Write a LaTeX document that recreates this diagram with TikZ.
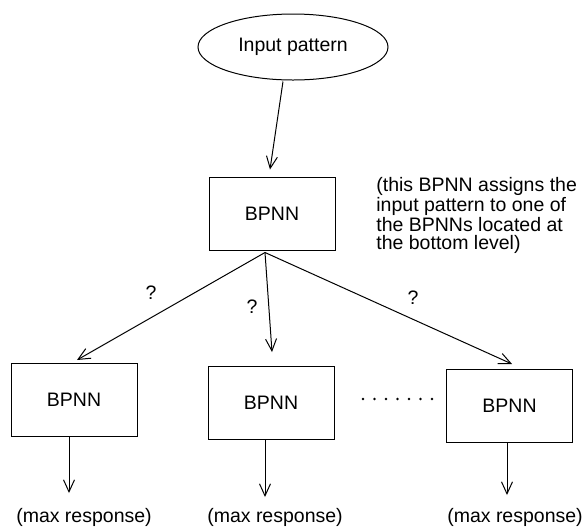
\documentclass[tikz,border=0pt]{standalone}
\usepackage{fontspec}
\setmainfont{Liberation Sans}
\usetikzlibrary{shapes.geometric,arrows.meta,calc}

\tikzset{
  net/.style={draw, line width=0.5pt, minimum width=63pt, minimum height=36.5pt, inner sep=0pt},
  link/.style={line width=0.5pt, -{Straight Barb[length=6pt,width=5.5pt,line width=0.5pt]}},
  lbl/.style={inner sep=0pt},
}

\begin{document}
\begin{tikzpicture}[x=0.5pt, y=-0.5pt, font=\fontsize{9.75}{9}\selectfont]
  \useasboundingbox (0,0) rectangle (585,527);

  % input
  \node[draw, ellipse, line width=0.5pt, minimum width=95pt, minimum height=33pt, inner sep=0pt] (inp) at (293,47) {Input pattern};

  % gating network
  \node[net] (top) at (272,213.5) {BPNN};
  \node[lbl, anchor=north west, align=left] (note) at (376,177)
    {(this BPNN assigns the\\input pattern to one of\\the BPNNs located at\\the bottom level)};

  % expert networks
  \node[net] (b1) at (74,400) {BPNN};
  \node[net] (b2) at (271,403) {BPNN};
  \node[net] (b3) at (509.5,406) {BPNN};

  % outputs
  \node[lbl] (r1) at (84,517) {(max response)};
  \node[lbl] (r2) at (275,517) {(max response)};
  \node[lbl] (r3) at (515,517) {(max response)};

  % dots between the experts
  \foreach \i in {0,...,6}
    \fill ({363+11.5*\i},399) circle (1.3);

  % input to gating network
  \draw[link] ($(inp.south)+(-10,1)$) -- ($(top.north)+(-2,-7)$);

  % gating network to experts
  \coordinate (apex) at ($(top.south)+(-7,2)$);
  \draw[link] (apex) -- ($(b1.north)+(3,-3)$);
  \draw[link] (apex) -- ($(b2.north)+(1,-14)$);
  \draw[link] (apex) -- ($(b3.north)+(2.5,-5)$);

  \node[lbl] (q1) at (151,293) {?};
  \node[lbl] (q2) at (252,307) {?};
  \node[lbl] (q3) at (413,298) {?};

  % experts to outputs
  \coordinate (o1) at (69,493);
  \coordinate (o2) at (265,497);
  \coordinate (o3) at (507,495);
  \draw[link] (b1.south -| o1) -- (o1);
  \draw[link] (b2.south -| o2) -- (o2);
  \draw[link] (b3.south -| o3) -- (o3);
\end{tikzpicture}
\end{document}
